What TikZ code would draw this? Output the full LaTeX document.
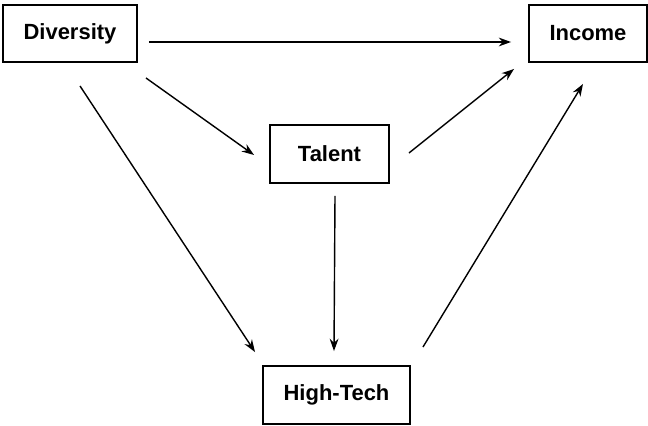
\documentclass[tikz,border=0pt]{standalone}
\usepackage{fontspec}
\setmainfont{Liberation Sans}
\usepackage{tikz}
\usetikzlibrary{arrows.meta}
\tikzset{box/.style={rectangle,draw,line width=1.1pt,inner sep=0pt,font=\fontsize{12.5}{15}\selectfont\bfseries}}

\begin{document}
\begin{tikzpicture}[>={Stealth[length=7pt,width=5pt]},line width=0.8pt]
    \useasboundingbox (0,0) rectangle (12.96,-8.52);
    \node[box,minimum width=2.68cm,minimum height=1.14cm] (div) at (1.4,-0.67) {Diversity};
    \node[box,minimum width=2.36cm,minimum height=1.14cm] (inc) at (11.76,-0.67) {Income};
    \node[box,minimum width=2.38cm,minimum height=1.16cm] (tal) at (6.59,-3.08) {Talent};
    \node[box,minimum width=2.94cm,minimum height=1.16cm] (ht) at (6.73,-7.9) {High-Tech};
    \draw [->] ([shift={(0.22,-0.17)}]div.east) -- ([shift={(-0.34,-0.17)}]inc.west);
    \draw [->] ([shift={(0.16,-0.3)}]div.south east) -- ([shift={(-0.3,-0.02)}]tal.west);
    \draw [->] ([shift={(0.2,-0.46)}]div.south) -- ([shift={(-0.14,0.26)}]ht.north west);
    \draw [->] ([shift={(0.38,0.02)}]tal.east) -- ([shift={(-0.28,-0.12)}]inc.south west);
    \draw [->] ([shift={(0.11,-0.24)}]tal.south) -- ([shift={(-0.05,0.28)}]ht.north);
    \draw [->] ([shift={(0.24,0.36)}]ht.north east) -- ([shift={(-0.1,-0.42)}]inc.south);
\end{tikzpicture}
\end{document}
